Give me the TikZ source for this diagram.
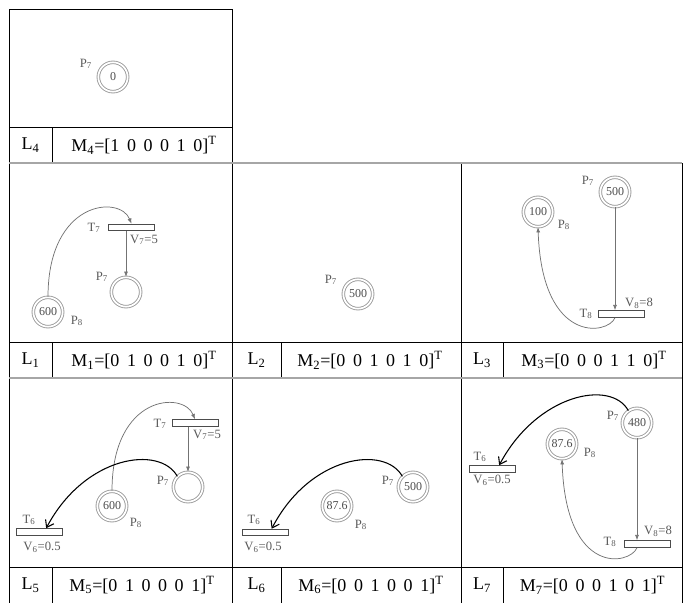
\documentclass[tikz,border=0pt]{standalone}
\usepackage{fontspec}
\setmainfont{Liberation Serif}
\usepackage{tikz}
\usetikzlibrary{arrows.meta}
\newcommand{\mvec}[6]{[#1\hspace{0.42em}#2\hspace{0.42em}#3\hspace{0.42em}#4\hspace{0.42em}#5\hspace{0.42em}#6]\textsuperscript{T}}
\tikzset{
PLACE/.style={circle, draw=gray!80, line width=0.65pt, double=white, double distance=1.3pt, minimum size=22pt, inner sep=0pt, font=\fontsize{9}{10}\selectfont, text=black!70},
TRANS/.style={rectangle, draw=black!70, line width=0.6pt, minimum width=34.5pt, minimum height=5pt, inner sep=0pt},
ARC/.style={draw=black!55, line width=0.55pt, -{Latex[length=4pt,width=3pt]}},
FIRE/.style={draw=black, line width=0.8pt, -{Straight Barb[length=5pt,width=7pt]}},
TEXT/.style={font=\fontsize{9.5}{10}\selectfont, text=black!65, inner sep=0pt},
CELL/.style={font=\fontsize{13.5}{15}\selectfont, inner sep=0pt},
GRID/.style={draw=black, line width=0.75pt},
ROW/.style={draw=gray!70, line width=1.5pt},
}
\begin{document}
\begin{tikzpicture}
[x=0.75pt, y=-0.75pt]
	\useasboundingbox (0,0) rectangle (686,603);
	\path[GRID] (9,163) -- (9,9) -- (232,9) -- (232,603);
	\path[GRID] (9,163) -- (9,603);
	\path[GRID] (461,163) -- (461,603);
	\path[GRID] (682,163) -- (682,603);
	\path[GRID] (9,127) -- (232,127);
	\path[GRID] (9,342) -- (682,342);
	\path[GRID] (9,567) -- (682,567);
	\path[GRID] (52,127) -- (52,163);
	\foreach \x in {52,281,503} {
		\path[GRID] (\x,342) -- (\x,378);
		\path[GRID] (\x,567) -- (\x,603);
	}
	\path[ROW] (9,163) -- (682,163);
	\path[ROW] (9,378) -- (682,378);

	\node[CELL] (L4name) at (30.5,145) {L\textsubscript{4}};
	\node[CELL] (L4mark) at (144,145) {M\textsubscript{4}=\mvec{1}{0}{0}{0}{1}{0}};
	\node[CELL] (L1name) at (30.5,360) {L\textsubscript{1}};
	\node[CELL] (L1mark) at (144,360) {M\textsubscript{1}=\mvec{0}{1}{0}{0}{1}{0}};
	\node[CELL] (L2name) at (256.5,360) {L\textsubscript{2}};
	\node[CELL] (L2mark) at (370,360) {M\textsubscript{2}=\mvec{0}{0}{1}{0}{1}{0}};
	\node[CELL] (L3name) at (482,360) {L\textsubscript{3}};
	\node[CELL] (L3mark) at (594,360) {M\textsubscript{3}=\mvec{0}{0}{0}{1}{1}{0}};
	\node[CELL] (L5name) at (30.5,585) {L\textsubscript{5}};
	\node[CELL] (L5mark) at (142,585) {M\textsubscript{5}=\mvec{0}{1}{0}{0}{0}{1}};
	\node[CELL] (L6name) at (256.5,585) {L\textsubscript{6}};
	\node[CELL] (L6mark) at (371,585) {M\textsubscript{6}=\mvec{0}{0}{1}{0}{0}{1}};
	\node[CELL] (L7name) at (482,585) {L\textsubscript{7}};
	\node[CELL] (L7mark) at (592.5,585) {M\textsubscript{7}=\mvec{0}{0}{0}{1}{0}{1}};

	\node[PLACE] (L4p7) at (113,77) {0};
	\node[TEXT] (L4p7lab) at (86,64) {P\textsubscript{7}};

	\node[PLACE] (L1p8) at (48,312) {600};
	\node[PLACE] (L1p7) at (126,292) {};
	\node[TRANS] (L1t7) at (131.5,227.5) {};
	\node[TEXT] (L1p8lab) at (77,321) {P\textsubscript{8}};
	\node[TEXT] (L1p7lab) at (102,277) {P\textsubscript{7}};
	\node[TEXT] (L1t7lab) at (94,228) {T\textsubscript{7}};
	\node[TEXT] (L1t7val) at (144,240) {V\textsubscript{7}=5};
	\path[ARC] (L1p8.north) .. controls (48,200) and (120,195) .. (L1t7.north);
	\path[ARC] (L1t7.south -| L1p7.north) -- (L1p7.north);

	\node[PLACE] (L2p7) at (358,294) {500};
	\node[TEXT] (L2p7lab) at (331,280) {P\textsubscript{7}};

	\node[PLACE] (L3p7) at (615,192) {500};
	\node[PLACE] (L3p8) at (538,212) {100};
	\node[TRANS] (L3t8) at (621.5,314) {};
	\node[TEXT] (L3p7lab) at (588,181) {P\textsubscript{7}};
	\node[TEXT] (L3p8lab) at (564,225) {P\textsubscript{8}};
	\node[TEXT] (L3t8lab) at (586,314) {T\textsubscript{8}};
	\node[TEXT] (L3t8val) at (639,303) {V\textsubscript{8}=8};
	\path[ARC] (L3p7.south) -- (L3p7.south |- L3t8.north);
	\path[ARC] (L3p7.south |- L3t8.south) .. controls (608,335) and (542,345) .. (L3p8.south);

	\node[PLACE] (L5p7) at (188,487) {};
	\node[PLACE] (L5p8) at (112,506) {600};
	\node[TRANS] (L5t7) at (195,423) {};
	\node[TRANS] (L5t6) at (39.5,532) {};
	\node[TEXT] (L5p7lab) at (163,481) {P\textsubscript{7}};
	\node[TEXT] (L5p8lab) at (136,523) {P\textsubscript{8}};
	\node[TEXT] (L5t7lab) at (160,424) {T\textsubscript{7}};
	\node[TEXT] (L5t7val) at (207,435) {V\textsubscript{7}=5};
	\node[TEXT] (L5t6lab) at (29,520) {T\textsubscript{6}};
	\node[TEXT] (L5t6val) at (42,547) {V\textsubscript{6}=0.5};
	\path[ARC] (L5p8.north) .. controls (112,394) and (183.5,391) .. (L5t7.north);
	\path[ARC] (L5t7.south -| L5p7.north) -- (L5p7.north);
	\path[FIRE] (L5p7.135) .. controls (160,445) and (85,455) .. ([xshift=5pt]L5t6.north);

	\node[PLACE] (L6p7) at (413,487) {500};
	\node[PLACE] (L6p8) at (337,506) {87.6};
	\node[TRANS] (L6t6) at (265,532.5) {};
	\node[TEXT] (L6p7lab) at (388,481) {P\textsubscript{7}};
	\node[TEXT] (L6p8lab) at (361,525) {P\textsubscript{8}};
	\node[TEXT] (L6t6lab) at (254,520) {T\textsubscript{6}};
	\node[TEXT] (L6t6val) at (263,547) {V\textsubscript{6}=0.5};
	\path[FIRE] (L6p7.135) .. controls (385,445) and (310,455) .. ([xshift=5pt]L6t6.north);

	\node[PLACE] (L7p7) at (637,423) {480};
	\node[PLACE] (L7p8) at (562,444) {87.6};
	\node[TRANS] (L7t6) at (492.5,469) {};
	\node[TRANS] (L7t8) at (647,544) {};
	\node[TEXT] (L7p7lab) at (613,416) {P\textsubscript{7}};
	\node[TEXT] (L7p8lab) at (590,453) {P\textsubscript{8}};
	\node[TEXT] (L7t6lab) at (480,457) {T\textsubscript{6}};
	\node[TEXT] (L7t6val) at (492,480) {V\textsubscript{6}=0.5};
	\node[TEXT] (L7t8lab) at (610,542) {T\textsubscript{8}};
	\node[TEXT] (L7t8val) at (658,531) {V\textsubscript{8}=8};
	\path[ARC] (L7p7.south) -- (L7p7.south |- L7t8.north);
	\path[ARC] (L7p7.south |- L7t8.south) .. controls (630,565) and (566,577) .. (L7p8.south);
	\path[FIRE] (L7p7.125) .. controls (611,379) and (537,394) .. ([xshift=5pt]L7t6.north);
\end{tikzpicture}
\end{document}
